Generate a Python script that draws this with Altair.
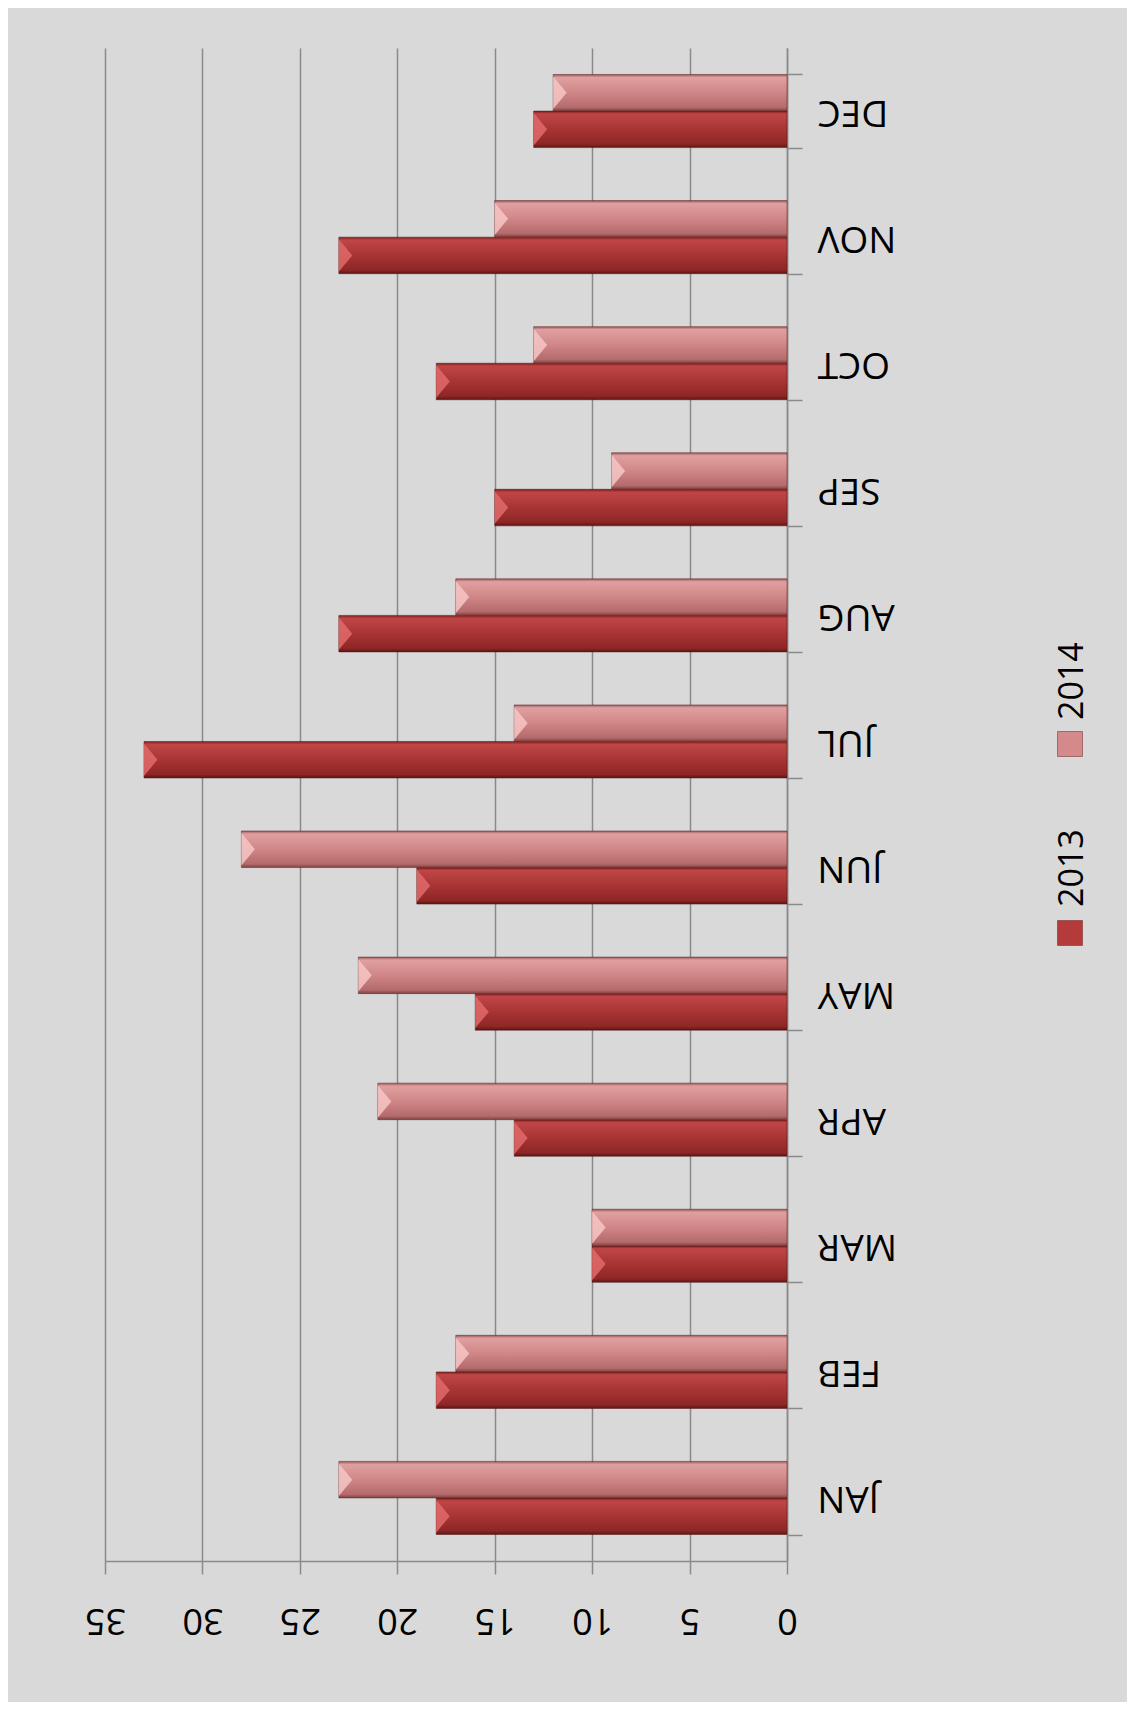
import altair as alt
import pandas as pd

months = ["JAN", "FEB", "MAR", "APR", "MAY", "JUN", "JUL", "AUG", "SEP", "OCT", "NOV", "DEC"]
series = ["2013", "2014"]
values_2013 = [18, 18, 10, 14, 16, 19, 33, 23, 15, 18, 23, 13]
values_2014 = [23, 17, 10, 21, 22, 28, 14, 17, 9, 13, 15, 12]
x_ticks = [0, 5, 10, 15, 20, 25, 30, 35]

rows = []
for m, a, b in zip(months, values_2013, values_2014):
    rows.append({"month": m, "series": "2013", "value": a})
    rows.append({"month": m, "series": "2014", "value": b})
df = pd.DataFrame(rows)
legend_df = pd.DataFrame({"series": series})

FONT = "Open Sans"
AXIS_GRAY = "#8a8a8a"
BEVEL = "M 0 -0.9 L 0.75 0 L 0 0.9 Z"


def grad(stops):
    return alt.LinearGradient(
        gradient="linear", x1=0, y1=0, x2=0, y2=1,
        stops=[alt.GradientStop(offset=o, color=c) for o, c in stops],
    )


grad_2013 = grad([(0, "#7a1e1e"), (0.08, "#c04646"), (0.5, "#a83434"), (0.9, "#8e2626"), (1, "#5e1414")])
grad_2014 = grad([(0, "#9a5555"), (0.08, "#e0a0a0"), (0.5, "#d08686"), (0.9, "#b56b6b"), (1, "#7e4040")])

x_enc = alt.X(
    "value:Q",
    scale=alt.Scale(domain=[0, 35], reverse=True, nice=False, zero=True),
    axis=alt.Axis(
        orient="bottom", values=x_ticks, title=None,
        grid=True, gridColor=AXIS_GRAY, gridWidth=1.5,
        domainColor=AXIS_GRAY, domainWidth=1.5,
        tickColor=AXIS_GRAY, tickSize=13, tickWidth=1.5,
        labelAngle=180, labelAlign="center", labelBaseline="middle",
        labelPadding=45, labelFont=FONT, labelFontSize=36, labelColor="black",
    ),
)
y_enc = alt.Y(
    "month:N",
    sort=months[::-1],
    scale=alt.Scale(paddingInner=0.42, paddingOuter=0.21),
    axis=alt.Axis(
        orient="right", title=None, grid=False, tickBand="extent",
        tickSize=15, tickColor=AXIS_GRAY, tickWidth=1.5,
        domainColor=AXIS_GRAY, domainWidth=1.5,
        labelAngle=180, labelAlign="right", labelBaseline="middle",
        labelPadding=15, labelFont=FONT, labelFontSize=37, labelColor="black",
    ),
)
yoff = alt.YOffset("series:N", scale=alt.Scale(domain=["2014", "2013"]))

base = alt.Chart(df)
d13 = base.transform_filter(alt.datum.series == "2013")
d14 = base.transform_filter(alt.datum.series == "2014")

bar13 = d13.mark_bar(fill=grad_2013, stroke="#4a1010", strokeWidth=0.8, strokeOpacity=0.6).encode(
    x=x_enc, y=y_enc, yOffset=yoff)
bar14 = d14.mark_bar(fill=grad_2014, stroke="#5a2020", strokeWidth=0.8, strokeOpacity=0.6).encode(
    x=x_enc, y=y_enc, yOffset=yoff)
tri13 = d13.mark_point(shape=BEVEL, size=1296, filled=True, fill="#e06a6a", opacity=0.85, strokeWidth=0).encode(
    x=x_enc, y=y_enc, yOffset=yoff)
tri14 = d14.mark_point(shape=BEVEL, size=1296, filled=True, fill="#f6c6c6", opacity=0.85, strokeWidth=0).encode(
    x=x_enc, y=y_enc, yOffset=yoff)
bars = alt.layer(bar13, bar14, tri13, tri14)

sym = alt.Chart(legend_df).mark_square(
    size=625, opacity=1, stroke="#6a2020", strokeWidth=0.5
).encode(
    x=alt.value(965),
    y=alt.Y("series:N", scale=alt.Scale(domain=series, range=[885, 696], padding=0), axis=None),
    color=alt.Color("series:N", scale=alt.Scale(domain=series, range=["#b53a3a", "#d48a8a"]), legend=None),
)
txt = alt.Chart(legend_df).mark_text(
    angle=270, align="left", baseline="middle", font=FONT, fontSize=34, color="black"
).encode(
    x=alt.value(968),
    y=alt.Y("series:N", scale=alt.Scale(domain=series, range=[859, 672], padding=0), axis=None),
    text="series:N",
)

chart = alt.layer(bars, sym, txt).resolve_scale(y="independent").properties(
    width=682,
    height=1513,
    padding={"left": 97, "top": 40, "right": 340, "bottom": 141},
    autosize=alt.AutoSizeParams(type="none"),
    background="#d9d9d9",
).configure_view(stroke=None)

chart.save("out.html", embed_options={"renderer": "svg", "actions": False})
